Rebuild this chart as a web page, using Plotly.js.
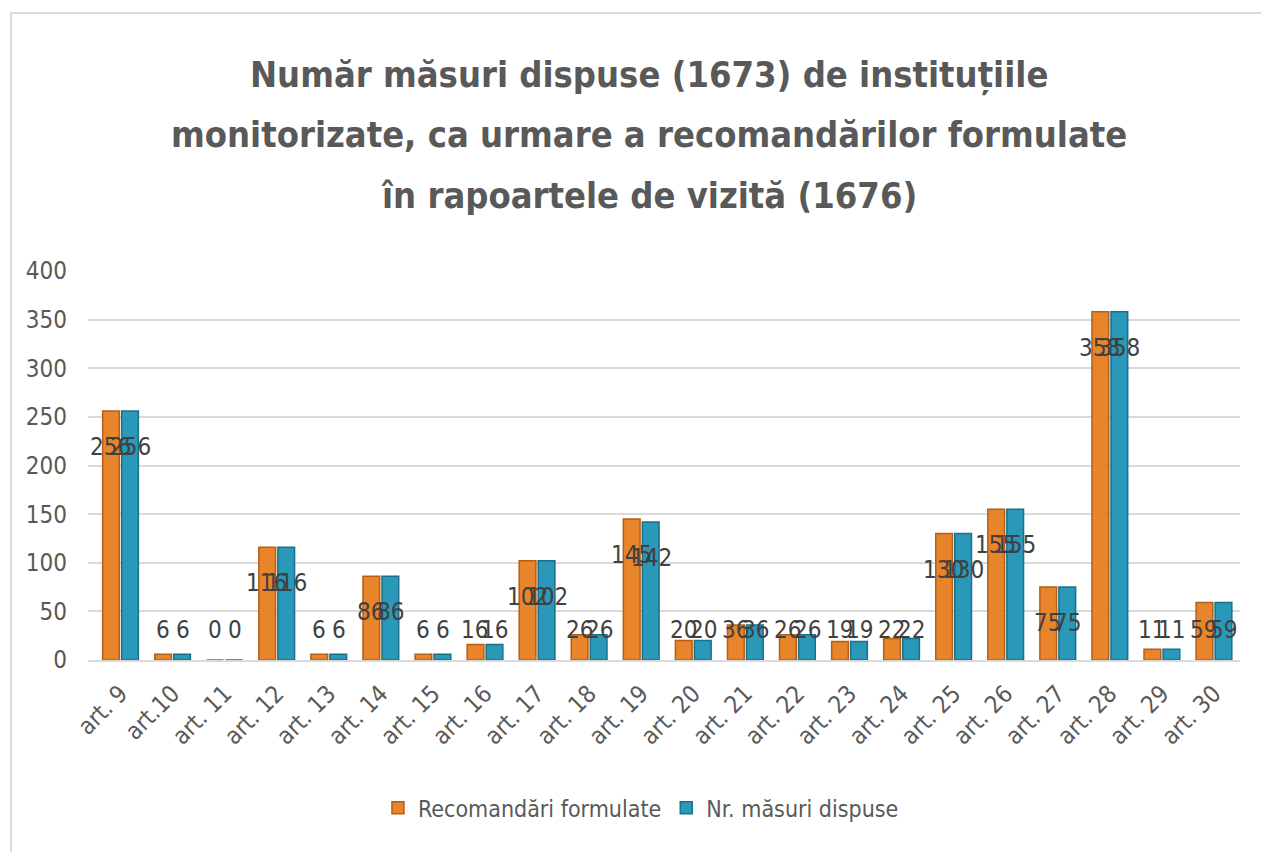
<!DOCTYPE html>
<html>
<head>
<meta charset="utf-8">
<script src="https://cdn.plot.ly/plotly-3.0.1.min.js"></script>
<style>
  html, body { margin: 0; padding: 0; background: #fff; }
  #chart { position: absolute; left: 0; top: 0; width: 1261px; height: 852px; }
  #frame { position: absolute; left: 10px; top: 12px; width: 1261px; height: 852px;
           border-left: 2px solid #d9d9d9; border-top: 2px solid #d9d9d9; pointer-events: none; }
</style>
</head>
<body>
<div id="chart"></div>
<div id="frame"></div>
<script>
const categories = ["art. 9","art.10","art. 11","art. 12","art. 13","art. 14","art. 15","art. 16","art. 17","art. 18","art. 19","art. 20","art. 21","art. 22","art. 23","art. 24","art. 25","art. 26","art. 27","art. 28","art. 29","art. 30"];
const recomandari = [256,6,0,116,6,86,6,16,102,26,145,20,36,26,19,22,130,155,75,358,11,59];
const masuri = [256,6,0,116,6,86,6,16,102,26,142,20,36,26,19,22,130,155,75,358,11,59];
const seriesNames = ["Recomandări formulate","Nr. măsuri dispuse"];
const yTicks = [0,50,100,150,200,250,300,350,400];
const titleLines = ["Număr măsuri dispuse (1673) de instituțiile","monitorizate, ca urmare a recomandărilor formulate","în rapoartele de vizită (1676)"];

const narrow = '"Liberation Sans Narrow", "DejaVu Sans Condensed", "Roboto Condensed", sans-serif';
const grey = '#595959';

const traces = [
  { type: 'bar', name: seriesNames[0], x: categories, y: recomandari,
    marker: { color: '#E8842A', line: { color: '#B45E18', width: 1.5 } }, hoverinfo: 'x+y' },
  { type: 'bar', name: seriesNames[1], x: categories, y: masuri,
    marker: { color: '#2A98B8', line: { color: '#1A7088', width: 1.5 } }, hoverinfo: 'x+y' }
];

const annotations = [];
titleLines.forEach((t, i) => {
  annotations.push({ xref: 'paper', yref: 'paper', x: 0.487, y: [1.504, 1.35, 1.195][i],
    xanchor: 'center', yanchor: 'middle', showarrow: false, text: '<b>' + t + '</b>',
    font: { family: narrow, size: 36, color: grey } });
});
const labelFloor = 31;
[recomandari, masuri].forEach((arr, s) => {
  arr.forEach((v, i) => {
    annotations.push({ x: categories[i], y: Math.max(v - 37, labelFloor), xref: 'x', yref: 'y',
      xshift: s === 0 ? -10 : 10, showarrow: false, text: String(v),
      xanchor: 'center', yanchor: 'middle',
      font: { family: narrow, size: 24, color: '#404040' } });
  });
});

const layout = {
  width: 1261, height: 852,
  margin: { l: 88, r: 21, t: 271, b: 192 },
  paper_bgcolor: '#fff', plot_bgcolor: '#fff',
  barmode: 'group', bargap: 0.27, bargroupgap: 0.12,
  showlegend: true,
  legend: { orientation: 'h', x: 0.48, xanchor: 'center', y: -0.38, yanchor: 'middle',
    font: { family: narrow, size: 23, color: grey }, itemwidth: 30, traceorder: 'normal' },
  xaxis: { type: 'category', tickangle: -45, showgrid: false, showline: true, linecolor: '#d9d9d9', linewidth: 2,
    ticks: '', automargin: false, ticklabelstandoff: 8,
    tickfont: { family: narrow, size: 24, color: grey }, zeroline: false },
  yaxis: { range: [0, 400], tickvals: yTicks, showgrid: true, gridcolor: '#d9d9d9', gridwidth: 2,
    zeroline: false, showline: false, ticks: '', automargin: false, ticklabelstandoff: 20,
    tickfont: { family: narrow, size: 24, color: grey } },
  annotations: annotations
};

Plotly.newPlot('chart', traces, layout, { displayModeBar: false, staticPlot: true });
</script>
</body>
</html>
